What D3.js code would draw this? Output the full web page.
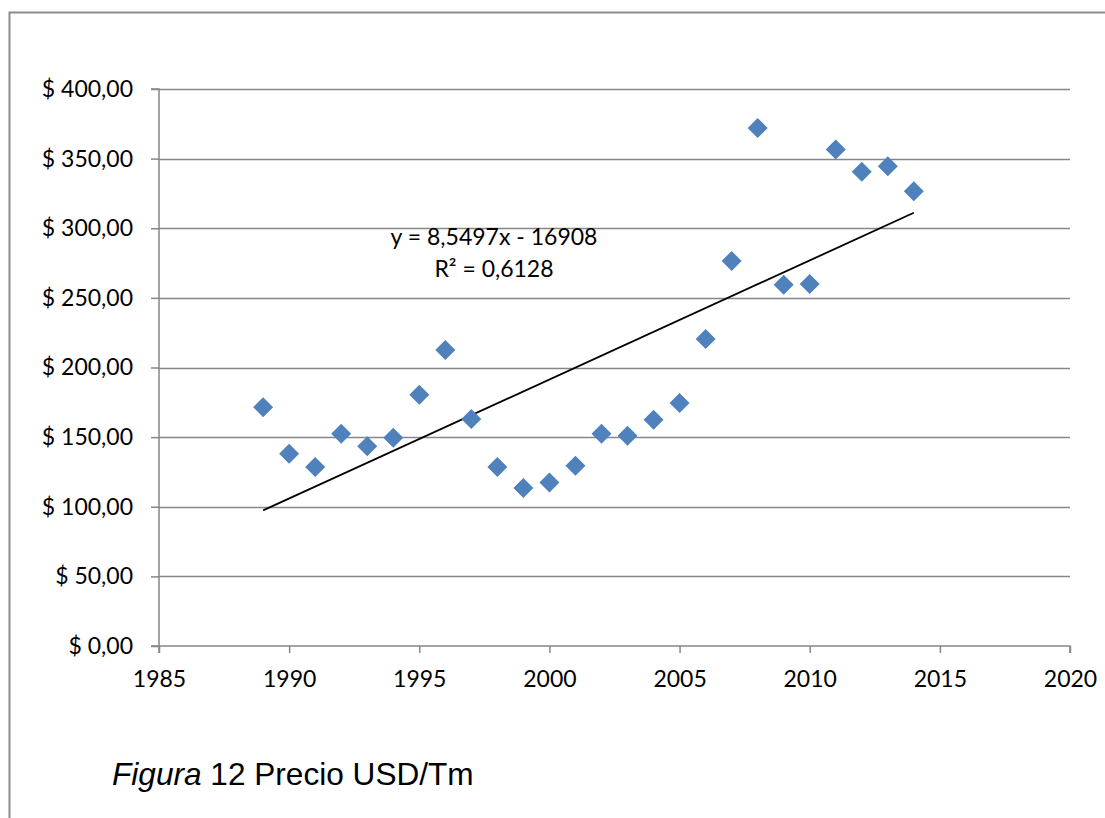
<!DOCTYPE html>
<html><head><meta charset="utf-8">
<script src="https://cdn.jsdelivr.net/npm/d3@7"></script>
<style>body{margin:0;background:#fff;} svg{display:block;}</style>
</head><body>
<svg id="c" width="1105" height="818"></svg>
<script>
const years = [1989,1990,1991,1992,1993,1994,1995,1996,1997,1998,1999,2000,2001,2002,2003,2004,2005,2006,2007,2008,2009,2010,2011,2012,2013,2014];
const prices = [171.5,138,128.5,152.5,143.5,149.5,180.5,212.5,163,128.5,113.5,117.5,129.5,152.5,151,162.5,174.5,220.5,276.5,372,259.5,260,356.5,340.5,344.5,326.5];
const xTicks = [1985,1990,1995,2000,2005,2010,2015,2020];
const yTicks = [0,50,100,150,200,250,300,350,400];
const trendSlope = 8.5497, trendIntercept = -16908;
const trendLabel = ["y = 8,5497x - 16908", "R² = 0,6128"];
const caption = {italic: "Figura", rest: " 12 Precio USD/Tm"};

const svg = d3.select("#c");
const FONT = "Lato, 'Open Sans', sans-serif";
// outer frame
svg.append("rect").attr("x",9.5).attr("y",12.5).attr("width",1200).attr("height",900)
  .attr("fill","none").attr("stroke","#8c8c8c").attr("stroke-width",2);

const x = d3.scaleLinear().domain([1985,2020]).range([159,1070]);
const y = d3.scaleLinear().domain([0,400]).range([646,89]);

const grid = "#878787";
svg.append("g").selectAll("line").data(yTicks.filter(d=>d>0)).join("line")
  .attr("x1",x(1985)).attr("x2",x(2020)).attr("y1",d=>Math.round(y(d))+0.5).attr("y2",d=>Math.round(y(d))+0.5)
  .attr("stroke",grid).attr("stroke-width",1.5);

const yAxis = svg.append("g").attr("transform",`translate(${x(1985)},0)`)
  .call(d3.axisLeft(y).tickValues(yTicks).tickSize(8).tickPadding(18).tickFormat(d=>"$ "+d3.format(".2f")(d).replace(".",",")));
const xAxis = svg.append("g").attr("transform",`translate(0,${y(0)})`)
  .call(d3.axisBottom(x).tickValues(xTicks).tickSize(7).tickPadding(18).tickFormat(d3.format("d")));
[yAxis,xAxis].forEach(g=>{
  g.select(".domain").attr("stroke",grid).attr("stroke-width",1.5);
  g.selectAll(".tick line").attr("stroke",grid).attr("stroke-width",1.5);
  g.selectAll("text").attr("font-family",FONT).attr("font-size",23).attr("fill","#000");
});
xAxis.select(".domain").attr("d",`M${x(1985)},7V0H${x(2020)}V7`);
yAxis.select(".domain").attr("d",`M-8,${y(400)}H0V${y(0)}H-8`);

// trendline
svg.append("line")
  .attr("x1",x(1989)).attr("y1",y(trendSlope*1989+trendIntercept))
  .attr("x2",x(2014)).attr("y2",y(trendSlope*2014+trendIntercept))
  .attr("stroke","#000").attr("stroke-width",1.8);

// markers
const data = years.map((yr,i)=>({yr, v:prices[i]}));
svg.append("g").selectAll("path").data(data).join("path")
  .attr("transform",d=>`translate(${x(d.yr)},${y(d.v)})`)
  .attr("d","M0,-10L10,0L0,10L-10,0Z")
  .attr("fill","#4F81BD");

// trend label
const tl = svg.append("text").attr("font-family",FONT).attr("font-size",23).attr("fill","#000").attr("text-anchor","middle");
tl.append("tspan").attr("x",494).attr("y",245).text(trendLabel[0]);
tl.append("tspan").attr("x",494).attr("y",277).text(trendLabel[1]);

// caption
const cap = svg.append("text").attr("x",112).attr("y",785).attr("font-family","'Liberation Sans', Arial, sans-serif").attr("font-size",31.6).attr("fill","#000");
cap.append("tspan").attr("font-style","italic").text(caption.italic);
cap.append("tspan").text(caption.rest);
</script>
</body></html>
